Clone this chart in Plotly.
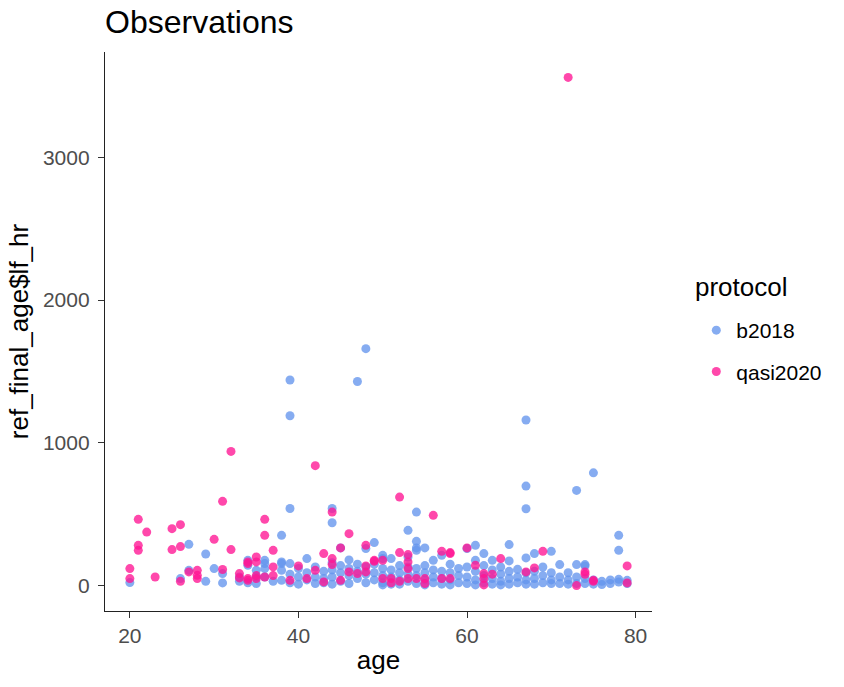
import plotly.graph_objects as go

# b2018 observations (age, lf_hr)
b_age = [20, 26, 27, 27, 29, 29, 30, 31, 31, 33, 33, 34, 34, 34, 35, 35, 35,
         36, 36, 36, 36, 37, 38, 38, 38, 38, 38,
         39, 39, 39, 39, 39, 39, 40, 40, 40, 41, 41, 41, 42, 42, 42, 43, 43, 43,
         44, 44, 44, 44, 44, 44, 45, 45, 45, 45, 46, 46, 46, 46, 47, 47, 47, 47,
         48, 48, 48, 48, 48, 49, 49, 49, 49, 50, 50, 50, 50, 50, 50,
         51, 51, 51, 51, 52, 52, 52, 52, 53, 53, 53, 53, 53,
         54, 54, 54, 54, 54, 54, 54, 55, 55, 55, 55, 55, 56, 56, 56, 56,
         57, 57, 57, 57, 58, 58, 58, 58, 59, 59, 59, 60, 60, 60, 60,
         61, 61, 61, 61, 61, 62, 62, 62, 62, 63, 63, 63, 63, 64, 64, 64, 64,
         65, 65, 65, 65, 65, 66, 66, 66, 67, 67, 67, 67, 67, 67, 67,
         68, 68, 68, 68, 69, 69, 69, 70, 70, 70, 70, 71, 71, 71, 72, 72, 72,
         73, 73, 73, 73, 74, 74, 74, 74, 75, 75, 75, 76, 76, 77, 77,
         78, 78, 78, 78, 79, 79]
b_val = [21, 49, 289, 107, 221, 30, 119, 84, 19, 30, 60, 177, 142, 20, 107, 60, 15,
         177, 119, 60, 154, 30, 352, 166, 107, 37, 154,
         1440, 1190, 540, 154, 80, 20, 120, 60, 10, 189, 90, 40, 130, 60, 15, 100, 50, 20,
         540, 440, 160, 110, 60, 10, 264, 140, 90, 30, 180, 120, 70, 15, 1430, 150, 100, 50,
         1660, 259, 130, 80, 20, 301, 150, 90, 40, 212, 189, 120, 70, 20, 5,
         189, 110, 60, 10, 140, 90, 40, 10, 387, 200, 130, 80, 30,
         515, 310, 264, 247, 120, 70, 15, 264, 140, 90, 40, 5, 177, 110, 60, 20,
         212, 100, 50, 10, 150, 90, 40, 5, 120, 70, 20, 259, 130, 60, 15,
         282, 177, 100, 40, 5, 224, 140, 70, 20, 177, 110, 50, 10, 130, 80, 30, 5,
         287, 173, 100, 50, 10, 114, 60, 20, 1160, 697, 538, 194, 90, 40, 10,
         224, 100, 50, 10, 130, 70, 20, 240, 90, 40, 14, 147, 60, 14, 90, 40, 10,
         667, 147, 60, 14, 147, 138, 50, 14, 790, 40, 10, 7, 30, 15, 40,
         352, 247, 44, 25, 37, 14]

# qasi2020 observations (age, lf_hr)
q_age = [20, 20, 21, 21, 21, 22, 23, 25, 25, 26, 26, 26, 27, 28, 28, 28, 30,
         31, 31, 32, 32, 33, 33, 34, 34, 34, 34, 35, 35, 35, 35, 36, 36, 36,
         37, 37, 37, 39, 40, 41, 42, 42, 43, 43, 44, 44, 44, 45, 45, 46, 46, 47,
         48, 48, 48, 49, 49, 50, 50, 51, 51, 52, 52, 52, 53, 53, 53, 53, 54, 55, 55,
         56, 57, 57, 58, 58, 58, 60, 61, 62, 62, 62, 63, 64, 67, 68, 69, 72, 73,
         74, 74, 75, 75, 79, 79]
q_val = [119, 49, 464, 282, 247, 375, 60, 399, 252, 427, 273, 30, 96, 107, 72, 49, 324,
         590, 113, 940, 252, 84, 54, 166, 154, 49, 37, 200, 166, 70, 49, 464, 352, 60,
         247, 131, 70, 37, 138, 49, 840, 107, 224, 26, 515, 189, 147, 264, 37, 364, 96, 84,
         282, 138, 96, 177, 170, 49, 177, 49, 20, 620, 231, 30, 217, 166, 119, 49, 49, 49, 15,
         492, 240, 49, 231, 224, 49, 264, 142, 84, 49, 5, 80, 189, 96, 124, 240, 3560, 0,
         96, 79, 37, 30, 138, 19]

FONT = "Liberation Sans, Arial, sans-serif"

fig = go.Figure()
fig.add_trace(go.Scatter(x=b_age, y=b_val, mode="markers", name="b2018",
                         legendgroup="b",
                         marker=dict(color="rgba(100,149,237,0.78)", size=9)))
fig.add_trace(go.Scatter(x=q_age, y=q_val, mode="markers", name="qasi2020",
                         legendgroup="q",
                         marker=dict(color="rgba(255,20,147,0.78)", size=9)))

fig.update_layout(
    width=844, height=687,
    margin=dict(l=105, r=192, t=52, b=76),
    paper_bgcolor="white", plot_bgcolor="white",
    font=dict(family=FONT, color="black"),
    title=dict(text="Observations", x=105/844, xref="container", xanchor="left",
               y=1-22/687, yref="container", yanchor="middle",
               font=dict(size=32, color="black")),
    legend=dict(font=dict(size=21), x=1.081, xanchor="left",
                y=(611-310)/559, yanchor="top", tracegroupgap=11, itemsizing="trace"),
    annotations=[dict(text="protocol", xref="paper", yref="paper",
                      x=(693-105)/547, y=(611-287)/559, xanchor="left", yanchor="middle",
                      showarrow=False, font=dict(size=26, color="black"))],
)
fig.update_xaxes(range=[17.05, 81.95], tickvals=[20, 40, 60, 80],
                 showgrid=False, zeroline=False, showline=True,
                 linecolor="#222", linewidth=1.3, ticks="outside", ticklen=6,
                 tickcolor="#333", tickfont=dict(size=21, color="#4D4D4D"),
                 title=dict(text="age", font=dict(size=26), standoff=4))
fig.update_yaxes(range=[-178, 3738], tickvals=[0, 1000, 2000, 3000],
                 showgrid=False, zeroline=False, showline=True,
                 linecolor="#222", linewidth=1.3, ticks="outside", ticklen=6,
                 tickcolor="#333", tickfont=dict(size=21, color="#4D4D4D"),
                 ticklabelstandoff=4,
                 title=dict(text="ref_final_age$lf_hr", font=dict(size=26), standoff=6))

fig.write_html("out.html")
